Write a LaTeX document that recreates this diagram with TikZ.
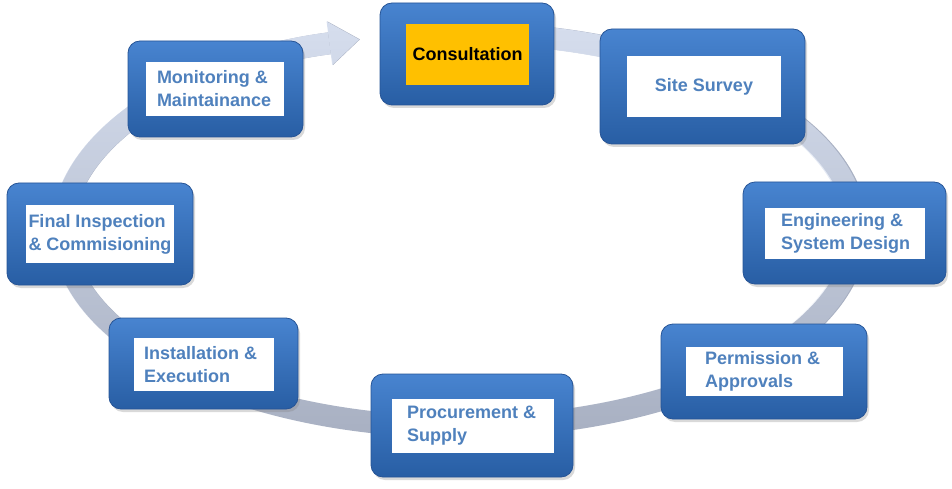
\documentclass[tikz,border=0pt]{standalone}
\usepackage{fontspec}
\setmainfont{Liberation Sans}
\usetikzlibrary{arrows.meta,positioning,shadows,fadings}

\definecolor{boxtop}{RGB}{72,132,208}
\definecolor{boxbot}{RGB}{40,94,164}
\definecolor{boxedge}{RGB}{38,84,150}
\definecolor{txtblue}{RGB}{79,129,189}
\definecolor{consgold}{RGB}{255,192,0}
\definecolor{ringdark}{RGB}{168,176,194}
\definecolor{ringlight}{RGB}{214,222,238}

\begin{document}
\begin{tikzpicture}[
    x=1pt, y=1pt,
    stagebox/.style={rectangle, rounded corners=12pt, draw=boxedge, line width=0.8pt, top color=boxtop, bottom color=boxbot, drop shadow={opacity=0.3, shadow xshift=2pt, shadow yshift=-3pt}},
    labelbox/.style={rectangle, fill=white, inner sep=0pt},
    stagetext/.style={inner sep=0pt, align=left, text=txtblue, font=\fontsize{18}{23}\selectfont\bfseries},
    ring/.style={line width=22pt, -{Triangle[length=30pt,width=44pt,line width=0pt]}}
]
\useasboundingbox (0,0) rectangle (952,488);
\coordinate (hub) at (460,258);
% Cycle ring with arrow into Consultation
\draw[ring, draw=ringdark] ([shift={(88:397 and 197)}]hub) arc[start angle=88, end angle=-255.4, x radius=397, y radius=197];
\draw[ring, draw=ringlight, path fading=south] ([shift={(88:397 and 197)}]hub) arc[start angle=88, end angle=-255.4, x radius=397, y radius=197];
% Stage boxes
\node[stagebox, minimum width=174, minimum height=102] (consult) at (467,434) {};
\node[labelbox, fill=consgold, minimum width=123, minimum height=61] (consultin) at (467.5,433.5) {};
\node[stagetext, text=black] (consulttxt) at (consultin) {Consultation};

\node[stagebox, minimum width=205, minimum height=115] (survey) at (702.5,401.5) {};
\node[labelbox, minimum width=154, minimum height=61] (surveyin) at (704,401.5) {};
\node[stagetext] (surveytxt) at (surveyin) {Site Survey};

\node[stagebox, minimum width=203, minimum height=102] (design) at (844.5,255) {};
\node[labelbox, minimum width=160, minimum height=51] (designin) at (845,254.5) {};
\node[stagetext, right=16 of designin.west] (designtxt) {Engineering \&\\System Design};

\node[stagebox, minimum width=206, minimum height=95] (permit) at (764,116.5) {};
\node[labelbox, minimum width=157, minimum height=49] (permitin) at (764.5,116.5) {};
\node[stagetext, right=19 of permitin.west] (permittxt) {Permission \&\\Approvals};

\node[stagebox, minimum width=202, minimum height=103] (supply) at (472,62.5) {};
\node[labelbox, minimum width=162, minimum height=54] (supplyin) at (473,62) {};
\node[stagetext, right=15 of supplyin.west] (supplytxt) {Procurement \&\\Supply};

\node[stagebox, minimum width=189, minimum height=91] (install) at (203.5,124.5) {};
\node[labelbox, minimum width=140, minimum height=53] (installin) at (204,123.5) {};
\node[stagetext, right=10 of installin.west] (installtxt) {Installation \&\\Execution};

\node[stagebox, minimum width=186, minimum height=102] (inspect) at (100,254) {};
\node[labelbox, minimum width=148, minimum height=58] (inspectin) at (100,254) {};
\node[stagetext] (inspecttxt) at (inspectin) {Final Inspection\\\& Commisioning};

\node[stagebox, minimum width=175, minimum height=96] (monitor) at (215.5,399) {};
\node[labelbox, minimum width=138, minimum height=54] (monitorin) at (215,399) {};
\node[stagetext, right=11 of monitorin.west] (monitortxt) {Monitoring \&\\Maintainance};
\end{tikzpicture}
\end{document}
